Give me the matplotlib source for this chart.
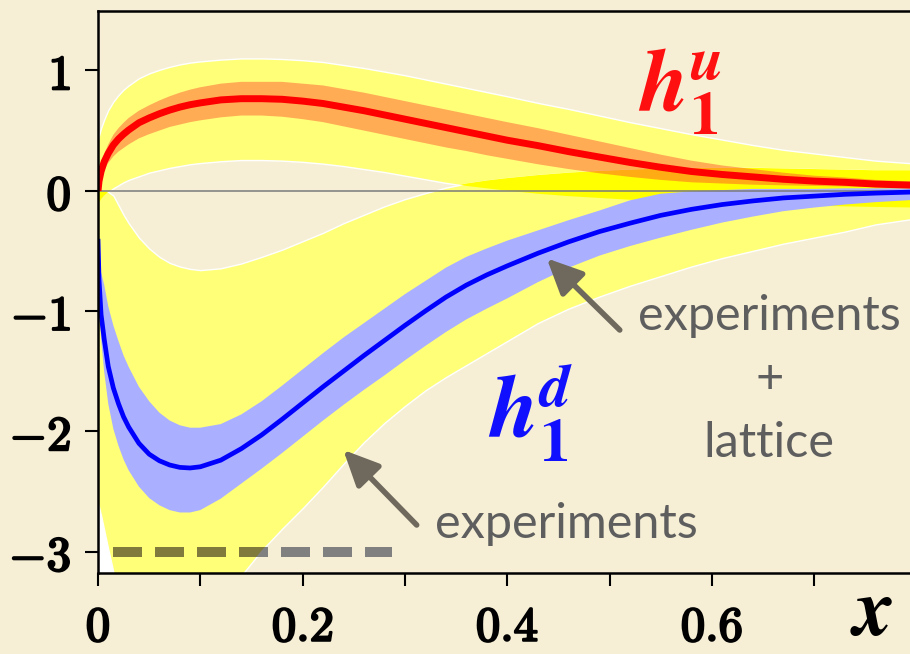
import numpy as np
import matplotlib
matplotlib.use("Agg")
import matplotlib.pyplot as plt
import matplotlib.patheffects as pe

plt.rcParams["mathtext.fontset"] = "cm"

# ---------------- data ----------------
x = [0.0, 0.001, 0.003, 0.006, 0.01, 0.015, 0.02, 0.025, 0.03, 0.04, 0.05, 0.06,
     0.07, 0.08, 0.09, 0.10, 0.12, 0.14, 0.16, 0.18, 0.20, 0.22, 0.24, 0.26,
     0.28, 0.30, 0.32, 0.34, 0.36, 0.38, 0.40, 0.43, 0.46, 0.49, 0.52, 0.55,
     0.58, 0.61, 0.64, 0.67, 0.70, 0.73, 0.76, 0.80]

# h1^u : central value, experiments + lattice band, experiments-only band
hu_mid = [0.0, 0.08, 0.16, 0.24, 0.31, 0.38, 0.43, 0.47, 0.505, 0.565, 0.605, 0.64,
          0.67, 0.695, 0.715, 0.73, 0.755, 0.765, 0.765, 0.76, 0.745, 0.725, 0.695, 0.665,
          0.63, 0.595, 0.56, 0.525, 0.49, 0.455, 0.42, 0.375, 0.325, 0.28, 0.235, 0.195,
          0.16, 0.135, 0.115, 0.095, 0.08, 0.07, 0.055, 0.045]
hu_lat_hi = [0.0, 0.11, 0.21, 0.305, 0.385, 0.465, 0.52, 0.565, 0.605, 0.665, 0.71, 0.75,
             0.785, 0.815, 0.84, 0.86, 0.89, 0.905, 0.905, 0.905, 0.89, 0.875, 0.845, 0.815,
             0.78, 0.745, 0.71, 0.675, 0.64, 0.605, 0.57, 0.52, 0.465, 0.41, 0.355, 0.30,
             0.25, 0.21, 0.18, 0.15, 0.125, 0.11, 0.09, 0.075]
hu_lat_lo = [0.0, 0.05, 0.11, 0.17, 0.23, 0.285, 0.325, 0.355, 0.385, 0.435, 0.47, 0.50,
             0.53, 0.55, 0.57, 0.585, 0.61, 0.625, 0.625, 0.615, 0.595, 0.57, 0.535, 0.50,
             0.465, 0.43, 0.395, 0.36, 0.33, 0.295, 0.265, 0.22, 0.18, 0.145, 0.115, 0.09,
             0.07, 0.06, 0.05, 0.045, 0.04, 0.035, 0.03, 0.025]
hu_exp_hi = [0.42, 0.46, 0.52, 0.59, 0.67, 0.74, 0.795, 0.84, 0.875, 0.935, 0.975, 1.005,
             1.03, 1.05, 1.065, 1.075, 1.09, 1.10, 1.10, 1.095, 1.085, 1.07, 1.045, 1.02,
             0.99, 0.96, 0.925, 0.89, 0.855, 0.82, 0.785, 0.73, 0.68, 0.625, 0.57, 0.52,
             0.47, 0.425, 0.38, 0.34, 0.31, 0.28, 0.25, 0.225]
hu_exp_lo = [-0.12, -0.10, -0.07, -0.04, -0.01, 0.02, 0.045, 0.07, 0.09, 0.12, 0.15, 0.17,
             0.19, 0.205, 0.22, 0.23, 0.245, 0.255, 0.255, 0.25, 0.24, 0.225, 0.205, 0.18,
             0.155, 0.125, 0.095, 0.065, 0.04, 0.02, 0.0, -0.025, -0.045, -0.06, -0.075, -0.085,
             -0.095, -0.10, -0.11, -0.115, -0.125, -0.13, -0.135, -0.14]

# h1^d : central value, experiments + lattice band, experiments-only band
hd_mid = [-0.40, -0.74, -1.03, -1.23, -1.46, -1.64, -1.77, -1.88, -1.965, -2.10, -2.19, -2.245,
          -2.28, -2.30, -2.305, -2.295, -2.24, -2.145, -2.03, -1.90, -1.765, -1.63, -1.50, -1.37,
          -1.245, -1.12, -1.00, -0.885, -0.785, -0.70, -0.625, -0.52, -0.425, -0.34, -0.27, -0.205,
          -0.155, -0.115, -0.085, -0.06, -0.045, -0.03, -0.02, -0.01]
hd_lat_hi = [-0.40, -0.59, -0.68, -0.78, -0.96, -1.12, -1.25, -1.37, -1.465, -1.63, -1.75, -1.845,
             -1.91, -1.95, -1.97, -1.97, -1.94, -1.86, -1.75, -1.62, -1.485, -1.35, -1.22, -1.10,
             -0.98, -0.86, -0.75, -0.64, -0.55, -0.48, -0.415, -0.33, -0.245, -0.165, -0.08, -0.025,
             -0.005, 0.005, 0.015, 0.015, 0.015, 0.02, 0.02, 0.02]
hd_lat_lo = [-0.40, -0.84, -1.23, -1.50, -1.77, -1.98, -2.12, -2.235, -2.325, -2.46, -2.555, -2.615,
             -2.655, -2.675, -2.675, -2.655, -2.56, -2.435, -2.31, -2.18, -2.045, -1.91, -1.78, -1.655,
             -1.535, -1.41, -1.29, -1.175, -1.07, -0.98, -0.895, -0.76, -0.64, -0.54, -0.46, -0.39,
             -0.325, -0.265, -0.215, -0.17, -0.14, -0.115, -0.095, -0.075]
hd_exp_hi = [0.0, 0.0, -0.003, -0.006, -0.01, -0.04, -0.12, -0.20, -0.27, -0.39, -0.48, -0.55,
             -0.60, -0.63, -0.65, -0.66, -0.645, -0.605, -0.55, -0.49, -0.42, -0.35, -0.27, -0.20,
             -0.13, -0.07, -0.02, 0.025, 0.06, 0.085, 0.105, 0.13, 0.15, 0.165, 0.175, 0.185,
             0.19, 0.19, 0.19, 0.185, 0.18, 0.175, 0.17, 0.17]
hd_exp_lo = [-2.60, -2.63, -2.70, -2.82, -2.98, -3.17, -3.35, -3.50, -3.62, -3.80, -3.92, -4.00,
             -4.02, -4.00, -3.92, -3.82, -3.52, -3.20, -2.99, -2.81, -2.64, -2.46, -2.27, -2.09,
             -1.93, -1.79, -1.66, -1.55, -1.45, -1.35, -1.25, -1.10, -0.98, -0.88, -0.79, -0.71,
             -0.63, -0.56, -0.50, -0.44, -0.39, -0.34, -0.28, -0.23]

# reference marker line at h = -3
ref_x = [0.015, 0.287]
ref_y = [-3.0, -3.0]

xticks_major = [0.0, 0.2, 0.4, 0.6]
xticks_minor = [0.1, 0.3, 0.5, 0.7]
xtick_labels = ["0", "0.2", "0.4", "0.6"]
yticks = [-3, -2, -1, 0, 1]
ytick_labels = ["-3", "-2", "-1", "0", "1"]

# ---------------- style ----------------
BG = "#f6efd6"
YELLOW_LIGHT = "#ffff78"
YELLOW_DEEP = "#ffff00"
BLUE_BAND = "#aab0ff"
ORANGE_BAND = "#ff4a2c"
GRAY_TXT = "#5e5e5e"
ARROW_C = "#6e695c"

x = np.asarray(x)
hu_exp_lo_a, hu_exp_hi_a = np.asarray(hu_exp_lo), np.asarray(hu_exp_hi)
hd_exp_lo_a, hd_exp_hi_a = np.asarray(hd_exp_lo), np.asarray(hd_exp_hi)

fig = plt.figure(figsize=(9.10, 6.54), dpi=100, facecolor=BG)
ax = fig.add_axes([98 / 910, 81 / 654, 812 / 910, 562 / 654])
ax.set_facecolor(BG)

# white sliver left of the d-quark band near x = 0
ax.fill_between(x[:7], -3.4, hd_exp_lo_a[:7], color="white", lw=0, zorder=0.5)

# experiments-only bands
ax.fill_between(x, hu_exp_lo, hu_exp_hi, facecolor=YELLOW_LIGHT, edgecolor="white",
                lw=1.0, zorder=1)
band_d = ax.fill_between(x, hd_exp_lo, hd_exp_hi, facecolor=YELLOW_LIGHT,
                         edgecolor="white", lw=1.0, zorder=1)
# where both experiments-only bands overlap
ov_lo = np.maximum(hu_exp_lo_a, hd_exp_lo_a)
ov_hi = np.minimum(hu_exp_hi_a, hd_exp_hi_a)
ax.fill_between(x, ov_lo, ov_hi, where=ov_hi > ov_lo, interpolate=True,
                facecolor=YELLOW_DEEP, lw=0, zorder=1.2)

# dashed reference line, tinted where it runs under the yellow band
ax.plot(ref_x, ref_y, color="#808080", lw=7.2, dashes=(2.9, 1.3),
        dash_capstyle="butt", zorder=1.4)
tinted, = ax.plot(ref_x, ref_y, color="#807a3c", lw=7.2, dashes=(2.9, 1.3),
                  dash_capstyle="butt", zorder=1.5)
tinted.set_clip_path(band_d.get_paths()[0], ax.transData)

# experiments + lattice bands
ax.fill_between(x, hd_lat_lo, hd_lat_hi, facecolor=BLUE_BAND, lw=0, zorder=2)
ax.fill_between(x, hu_lat_lo, hu_lat_hi, facecolor=ORANGE_BAND, alpha=0.46, lw=0, zorder=2)

ax.axhline(0, color="#7a7a7a", lw=1.1, zorder=2.5)

ax.plot(x, hu_mid, color="#ff0000", lw=5.0, solid_capstyle="butt",
        solid_joinstyle="round", zorder=3)
ax.plot(x, hd_mid, color="#0000ff", lw=3.4, solid_capstyle="butt",
        solid_joinstyle="round", zorder=3.1)

# ---------------- axes ----------------
ax.set_xlim(0, 0.7937)
ax.set_ylim(-3.178, 1.494)
ax.spines["right"].set_visible(False)
for s in ("left", "bottom", "top"):
    ax.spines[s].set_linewidth(1.8)
    ax.spines[s].set_color("black")
    ax.spines[s].set_zorder(5)

ax.set_xticks(xticks_major, [r"$\mathbf{%s}$" % t for t in xtick_labels])
ax.set_xticks(xticks_minor, minor=True)
ax.set_yticks(yticks, [r"$\mathbf{%s}$" % t for t in ytick_labels])
ax.tick_params(axis="both", which="both", direction="out", length=9.5, width=1.5,
               colors="black", labelsize=35)
ax.tick_params(axis="x", which="both", pad=12)
ax.tick_params(axis="y", which="both", pad=10)
for lbl in ax.get_xticklabels() + ax.get_yticklabels():
    lbl.set_path_effects([pe.withStroke(linewidth=1.6, foreground="black")])

# ---------------- annotations ----------------
label_font = dict(family="Lato", color=GRAY_TXT, fontsize=35, ha="center", va="baseline")
ax.text(0.656, -1.158, "experiments", **label_font)
ax.text(0.656, -1.682, "+", **label_font)
ax.text(0.656, -2.214, "lattice", **label_font)
ax.text(0.4575, -2.887, "experiments", **label_font)

ax.text(0.569, 0.82, r"$\mathbfit{h}_{\mathbf{1}}^{\mathbfit{u}}$", color="#ff1010",
        fontsize=63, ha="center", va="center", math_fontfamily="stix", zorder=6)
ax.text(0.423, -1.84, r"$\mathbfit{h}_{\mathbf{1}}^{\mathbfit{d}}$", color="#1010ff",
        fontsize=63, ha="center", va="center", math_fontfamily="stix", zorder=6)

arrow_kw = dict(arrowstyle="-|>,head_length=0.9,head_width=0.42", lw=4, color=ARROW_C,
                mutation_scale=24, shrinkA=0, shrinkB=0)
ax.annotate("", xy=(0.4386, -0.562), xytext=(0.510, -1.158), arrowprops=arrow_kw, zorder=6)
ax.annotate("", xy=(0.2398, -2.155), xytext=(0.3115, -2.779), arrowprops=arrow_kw, zorder=6)

fig.text(872 / 910, 2 / 654, r"$\mathbfit{x}$", fontsize=58, ha="center", va="bottom",
         math_fontfamily="stix")

fig.savefig("out.png", dpi=100, facecolor=BG)
